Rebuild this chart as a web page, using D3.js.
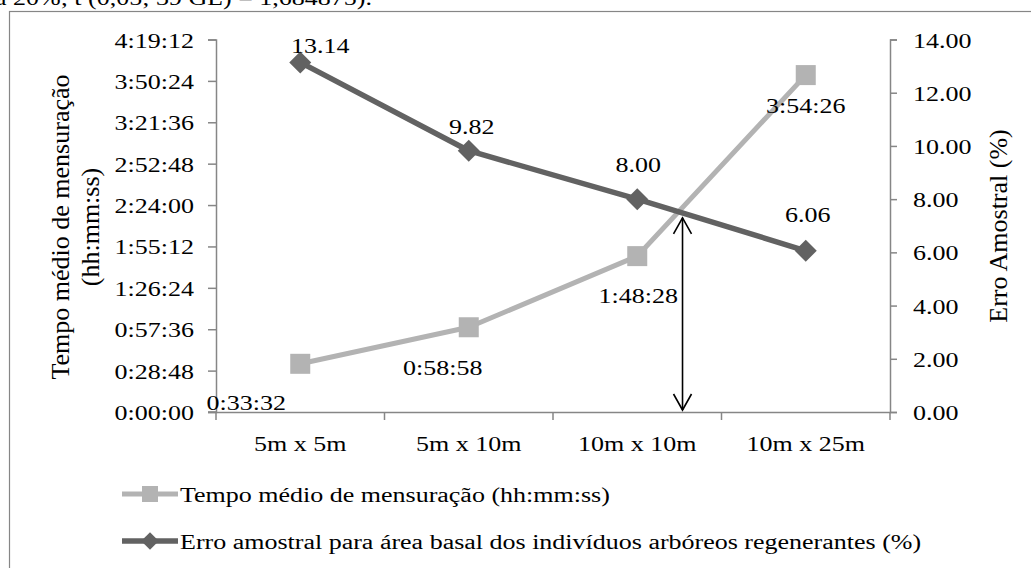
<!DOCTYPE html>
<html><head><meta charset="utf-8">
<script src="https://cdn.jsdelivr.net/npm/d3@7"></script>
<style>
html,body{margin:0;padding:0;background:#fff;}
svg text{font-family:"Liberation Serif","Times New Roman",serif;fill:#000;}
</style></head>
<body>
<svg id="c" width="1031" height="568"></svg>
<script>
// ---- data ----
const categories = ["5m x 5m", "5m x 10m", "10m x 10m", "10m x 25m"];
const tempoMedio = ["0:33:32", "0:58:58", "1:48:28", "3:54:26"];
const erroAmostral = [13.14, 9.82, 8.00, 6.06];
const leftTickLabels = ["0:00:00","0:28:48","0:57:36","1:26:24","1:55:12","2:24:00","2:52:48","3:21:36","3:50:24","4:19:12"];
const rightTickLabels = ["0.00","2.00","4.00","6.00","8.00","10.00","12.00","14.00"];
const seriesNames = ["Tempo médio de mensuração (hh:mm:ss)", "Erro amostral para área basal dos indivíduos arbóreos regenerantes (%)"];
const leftTitle = ["Tempo médio de mensuração", "(hh:mm:ss)"];
const rightTitle = "Erro Amostral (%)";
const topNote = "a 20%; t (0,05; 39 GL) = 1,684875).";

// ---- layout (not data) ----
const tempoLabelOffset = [[-54, 46], [-26, 48], [1, 47], [0, 38]];
const erroLabelOffset = [[20, -9], [3, -17], [1, -27], [2, -29]];

const toSec = s => { const p = s.split(":").map(Number); return p[0]*3600 + p[1]*60 + p[2]; };
const tempoSec = tempoMedio.map(toSec);
const leftTickSec = leftTickLabels.map(toSec);
const rightTickVals = rightTickLabels.map(Number);

const FS = 26, SQ = 0.82;
const LIGHT = "#b3b3b3", DARK = "#626262", AXIS = "#868686";

const svg = d3.select("#c");

function htext(g, x, y, str, anchor) {
  return g.append("text")
    .attr("transform", `translate(${x},${y}) scale(1,${SQ})`)
    .attr("text-anchor", anchor || "middle")
    .attr("font-size", FS)
    .text(str);
}

// chart border
svg.append("rect").attr("x", 9.5).attr("y", 11.5).attr("width", 1040).attr("height", 580)
  .attr("fill", "none").attr("stroke", AXIS).attr("stroke-width", 1.2);

// top cut note
htext(svg, 372, 5, topNote, "end");

const x = d3.scaleBand().domain(categories).range([216, 890]).padding(0);
const cx = c => x(c) + x.bandwidth()/2;
const yL = d3.scaleLinear().domain([0, leftTickSec[leftTickSec.length-1]]).range([412, 39.5]);
const yR = d3.scaleLinear().domain([0, rightTickVals[rightTickVals.length-1]]).range([412, 39.5]);

// left axis
const gL = svg.append("g").attr("transform", "translate(216,0)");
gL.call(d3.axisLeft(yL).tickValues(leftTickSec).tickFormat((d,i)=>"").tickSizeOuter(0).tickSize(8));
gL.selectAll("path,line").attr("stroke", AXIS).attr("stroke-width", 1.5);
leftTickSec.forEach((v,i) => htext(svg, 194, yL(v) + 8, leftTickLabels[i], "end"));

// right axis
const gR = svg.append("g").attr("transform", "translate(890,0)");
gR.call(d3.axisRight(yR).tickValues(rightTickVals).tickFormat(()=>"").tickSizeOuter(0).tickSize(7));
gR.selectAll("path,line").attr("stroke", AXIS).attr("stroke-width", 1.5);
rightTickVals.forEach((v,i) => htext(svg, 913, yR(v) + 8, rightTickLabels[i], "start"));

// x axis
const gX = svg.append("g").attr("transform", "translate(0,412)");
gX.call(d3.axisBottom(x).tickFormat(()=>"").tickSize(0).tickSizeOuter(0));
gX.selectAll("path").attr("stroke", AXIS).attr("stroke-width", 1.5);
const bounds = categories.map(c => x(c)).concat([x.range()[1]]);
gX.selectAll(".bt").data(bounds).enter().append("line").attr("class","bt")
  .attr("x1", d=>d).attr("x2", d=>d).attr("y1", 0).attr("y2", 8)
  .attr("stroke", AXIS).attr("stroke-width", 1.5);
svg.append("line").attr("x1", 208).attr("x2", 216).attr("y1", 412).attr("y2", 412).attr("stroke", AXIS).attr("stroke-width", 1.5);
categories.forEach(c => htext(svg, cx(c), 451, c, "middle"));

// titles
svg.append("text").attr("transform", "translate(69,227) rotate(-90)").attr("text-anchor","middle")
  .attr("font-size", FS).text(leftTitle[0]);
svg.append("text").attr("transform", "translate(99,227) rotate(-90)").attr("text-anchor","middle")
  .attr("font-size", FS).text(leftTitle[1]);
svg.append("text").attr("transform", "translate(1007,226) rotate(-90)").attr("text-anchor","middle")
  .attr("font-size", FS).text(rightTitle);

// series: tempo (light)
const lineT = d3.line().x((d,i)=>cx(categories[i])).y(d=>yL(d));
svg.append("path").datum(tempoSec).attr("d", lineT).attr("fill","none")
  .attr("stroke", LIGHT).attr("stroke-width", 5).attr("stroke-linejoin","round");
svg.selectAll(".sq").data(tempoSec).enter().append("rect").attr("class","sq")
  .attr("x", (d,i)=>cx(categories[i]) - 10).attr("y", d=>yL(d) - 10)
  .attr("width", 20).attr("height", 20).attr("fill", LIGHT);

// series: erro (dark)
const lineE = d3.line().x((d,i)=>cx(categories[i])).y(d=>yR(d));
svg.append("path").datum(erroAmostral).attr("d", lineE).attr("fill","none")
  .attr("stroke", DARK).attr("stroke-width", 5.5).attr("stroke-linejoin","round");
const diamond = "M0,-11 L11,0 L0,11 L-11,0 Z";
svg.selectAll(".dm").data(erroAmostral).enter().append("path").attr("class","dm")
  .attr("transform", (d,i)=>`translate(${cx(categories[i])},${yR(d)})`)
  .attr("d", diamond).attr("fill", DARK);

// data labels
tempoSec.forEach((v,i) => htext(svg, cx(categories[i]) + tempoLabelOffset[i][0], yL(v) + tempoLabelOffset[i][1], tempoMedio[i], "middle"));
erroAmostral.forEach((v,i) => htext(svg, cx(categories[i]) + erroLabelOffset[i][0], yR(v) + erroLabelOffset[i][1], v.toFixed(2), "middle"));

// double-headed arrow at the crossing of the two lines
(function(){
  const x0 = cx(categories[2]), x1 = cx(categories[3]);
  const a0 = yR(erroAmostral[2]), a1 = yR(erroAmostral[3]);
  const b0 = yL(tempoSec[2]), b1 = yL(tempoSec[3]);
  const t = (b0 - a0) / ((b0 - a0) - (b1 - a1));
  const xi = x0 + t*(x1 - x0) + 4, yi = a0 + t*(a1 - a0) + 6;
  const yb = 410;
  const g = svg.append("g").attr("stroke","#000").attr("stroke-width",1.6).attr("fill","none");
  g.append("line").attr("x1", xi).attr("x2", xi).attr("y1", yi).attr("y2", yb);
  g.append("path").attr("d", `M${xi-9},${yi+16} L${xi},${yi} L${xi+9},${yi+16}`);
  g.append("path").attr("d", `M${xi-9},${yb-16} L${xi},${yb} L${xi+9},${yb-16}`);
})();

// legend
const legY = [494, 541];
const lg = svg.append("g");
lg.append("line").attr("x1",122).attr("x2",178).attr("y1",legY[0]).attr("y2",legY[0]).attr("stroke",LIGHT).attr("stroke-width",5);
lg.append("rect").attr("x",142).attr("y",legY[0]-8).attr("width",16).attr("height",16).attr("fill",LIGHT);
lg.append("line").attr("x1",122).attr("x2",178).attr("y1",legY[1]).attr("y2",legY[1]).attr("stroke",DARK).attr("stroke-width",5.5);
lg.append("path").attr("transform",`translate(150,${legY[1]}) scale(0.8)`).attr("d",diamond).attr("fill",DARK);
htext(lg, 180, legY[0] + 8, seriesNames[0], "start");
htext(lg, 180, legY[1] + 8, seriesNames[1], "start");
</script>
</body></html>
